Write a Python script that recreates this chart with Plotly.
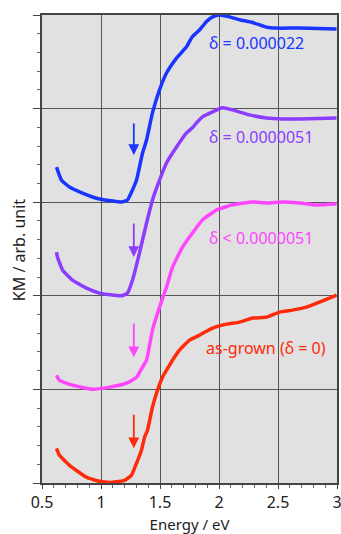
import plotly.graph_objects as go

# Energy (eV) / KM (offset, arb. unit)
blue_x = [0.623, 0.665, 0.733, 0.843, 0.987, 1.174, 1.225, 1.267, 1.301, 1.352, 1.386, 1.436, 1.496, 1.555,
          1.640, 1.725, 1.775, 1.835, 1.894, 1.945, 2.004, 2.089, 2.174, 2.284, 2.403, 2.487, 2.682, 2.996]
blue_y = [3.374, 3.235, 3.162, 3.098, 3.034, 3.002, 3.024, 3.131, 3.237, 3.526, 3.665, 3.954, 4.20, 4.38,
          4.54, 4.66, 4.77, 4.84, 4.93, 4.98, 5.0, 4.98, 4.95, 4.92, 4.87, 4.86, 4.86, 4.85]

purple_x = [0.623, 0.631, 0.674, 0.758, 0.877, 0.987, 1.174, 1.225, 1.267, 1.326, 1.386, 1.436, 1.496, 1.555,
            1.640, 1.725, 1.775, 1.809, 1.860, 1.945, 2.030, 2.114, 2.258, 2.403, 2.538, 2.682, 2.996]
purple_y = [2.467, 2.414, 2.275, 2.168, 2.082, 2.029, 2.0, 2.03, 2.168, 2.457, 2.778, 3.024, 3.237, 3.419,
            3.59, 3.74, 3.795, 3.847, 3.911, 3.965, 4.008, 3.986, 3.933, 3.90, 3.89, 3.89, 3.90]

pink_x = [0.623, 0.648, 0.758, 0.928, 1.072, 1.216, 1.301, 1.352, 1.386, 1.436, 1.496, 1.555, 1.606, 1.691,
          1.775, 1.860, 1.979, 2.114, 2.284, 2.403, 2.538, 2.682, 2.826, 2.996]
pink_y = [1.152, 1.098, 1.045, 1.002, 1.024, 1.066, 1.13, 1.237, 1.312, 1.633, 1.879, 2.093, 2.307, 2.521,
          2.671, 2.81, 2.917, 2.971, 3.003, 2.992, 3.003, 2.992, 2.971, 2.98]

red_x = [0.623, 0.648, 0.733, 0.877, 0.987, 1.097, 1.199, 1.258, 1.301, 1.343, 1.369, 1.394, 1.436, 1.479,
         1.521, 1.581, 1.606, 1.665, 1.750, 1.835, 1.945, 2.064, 2.174, 2.284, 2.403, 2.513, 2.623, 2.742,
         2.852, 2.936, 2.996]
red_y = [0.371, 0.296, 0.189, 0.061, 0.018, 0.007, 0.029, 0.082, 0.211, 0.35, 0.489, 0.564, 0.81, 0.992,
         1.131, 1.259, 1.312, 1.419, 1.526, 1.58, 1.655, 1.697, 1.719, 1.762, 1.772, 1.826, 1.847, 1.879,
         1.933, 1.975, 2.008]

labels = ["δ = 0.000022", "δ = 0.0000051", "δ < 0.0000051", "as-grown (δ = 0)"]
label_x = [1.90, 1.90, 1.90, 1.87]
label_y = [4.70, 3.695, 2.617, 1.44]
arrow_x = 1.278
arrow_top = [3.856, 2.788, 1.719, 0.745]
arrow_bot = [3.503, 2.414, 1.344, 0.371]
colors = ["#1a35ff", "#8c3cff", "#ff46ff", "#ff2a0a"]

series = [(blue_x, blue_y), (purple_x, purple_y), (pink_x, pink_y), (red_x, red_y)]

fig = go.Figure()
for (xs, ys), c in zip(series, colors):
    fig.add_trace(go.Scatter(x=xs, y=ys, mode="lines", line=dict(color=c, width=3.5, shape="spline", smoothing=0.4),
                             showlegend=False, hoverinfo="skip", cliponaxis=False))

font = "Noto Sans, DejaVu Sans, sans-serif"
for t, lx, ly, c, at, ab in zip(labels, label_x, label_y, colors, arrow_top, arrow_bot):
    fig.add_annotation(x=lx, y=ly, text=t, showarrow=False, xanchor="left", yanchor="middle",
                       font=dict(color=c, size=16, family=font))
    fig.add_annotation(x=arrow_x, y=ab, ax=arrow_x, ay=at, xref="x", yref="y", axref="x", ayref="y",
                       text="", showarrow=True, arrowhead=2, arrowsize=1.2, arrowwidth=1.8, arrowcolor=c)

# y-axis title placed as rotated text
fig.add_annotation(x=-0.078, y=0.4975, xref="paper", yref="paper", text="KM / arb. unit", textangle=-90,
                   showarrow=False, xanchor="center", yanchor="middle", font=dict(size=16, color="#222", family=font))

fig.update_layout(
    width=341, height=534,
    margin=dict(l=42, r=4, t=15, b=51),
    paper_bgcolor="white", plot_bgcolor="#e1e1e1",
    font=dict(family=font, size=16, color="#222"),
    xaxis=dict(range=[0.5, 3], dtick=0.5, tick0=0.5, showgrid=True, gridcolor="#555", gridwidth=1,
               showline=True, linecolor="#444", linewidth=1.5, mirror=True, ticks="outside", ticklen=4,
               tickcolor="#444", zeroline=False, automargin=False, ticklabeloverflow="allow",
               minor=dict(dtick=0.1, ticks="outside", ticklen=3, tickcolor="#666", showgrid=False),
               title=dict(text="Energy / eV", font=dict(size=15)),
               tickfont=dict(size=16)),
    yaxis=dict(range=[0, 5], dtick=1, showgrid=True, gridcolor="#555", gridwidth=1, showticklabels=False,
               showline=True, linecolor="#444", linewidth=1.5, mirror=True, ticks="outside", ticklen=7,
               tickcolor="#444", zeroline=False, automargin=False,
               minor=dict(dtick=0.2, ticks="outside", ticklen=3, tickcolor="#666", showgrid=False)),
)

fig.write_html("out.html", config={"displayModeBar": False},
               post_script="document.body.style.margin='0';document.body.style.overflow='hidden';")
